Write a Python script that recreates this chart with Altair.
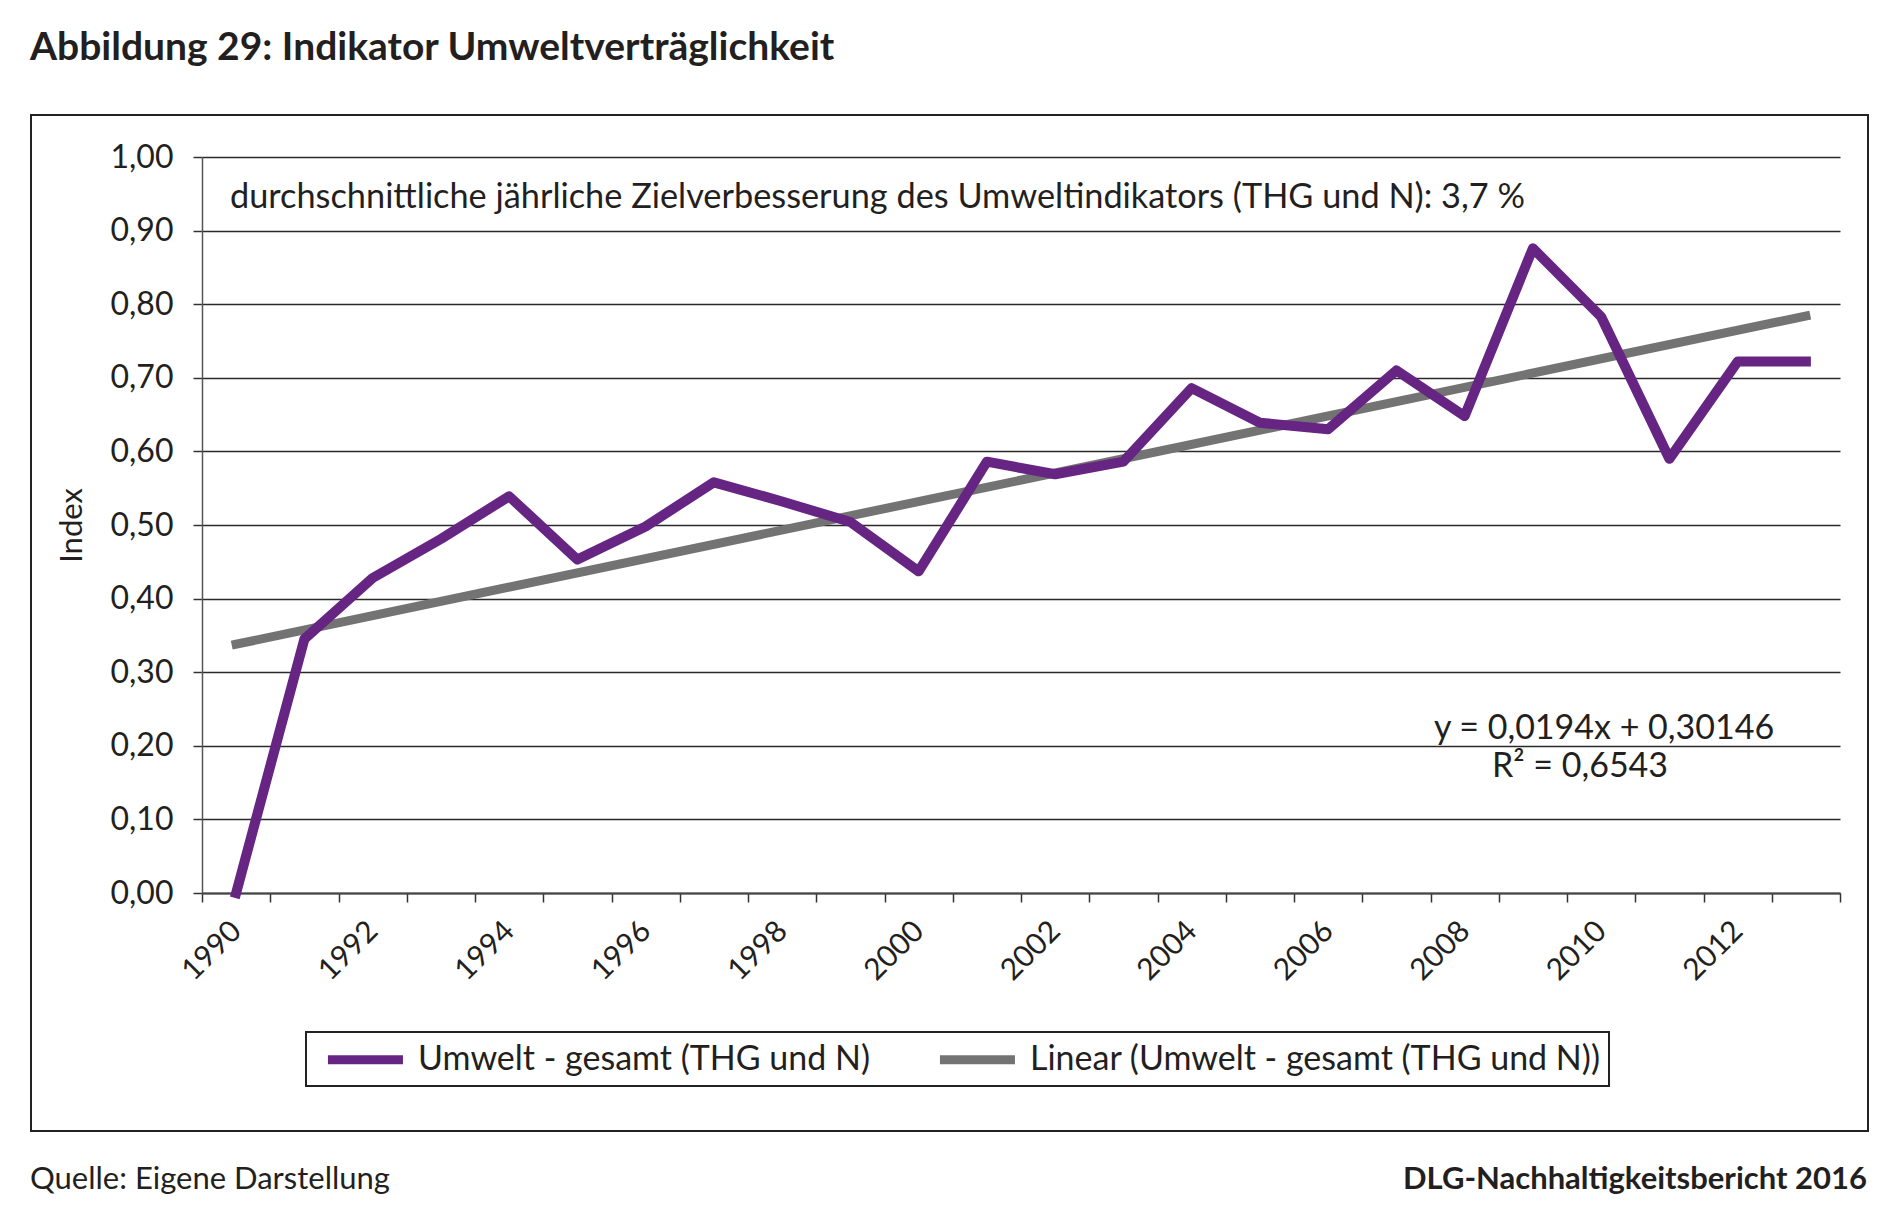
import altair as alt
import pandas as pd

# ---------------- data ----------------
YEARS = list(range(1990, 2014))
UMWELT = [0.000, 0.345, 0.428, 0.481, 0.539, 0.453, 0.498, 0.558, 0.532, 0.504,
          0.437, 0.586, 0.569, 0.586, 0.686, 0.639, 0.630, 0.710, 0.648, 0.876,
          0.783, 0.590, 0.722, 0.722]
TREND_YEARS = [1990, 2013]
TREND_VALUES = [0.338, 0.784]
SERIES = ["Umwelt - gesamt (THG und N)", "Linear (Umwelt - gesamt (THG und N))"]
Y_TICKS = [0.0, 0.1, 0.2, 0.3, 0.4, 0.5, 0.6, 0.7, 0.8, 0.9, 1.0]

TITLE = "Abbildung 29: Indikator Umweltverträglichkeit"
NOTE = "durchschnittliche jährliche Zielverbesserung des Umweltindikators (THG und N): 3,7 %"
EQ1 = "y = 0,0194x + 0,30146"
EQ2 = "R² = 0,6543"
SOURCE = "Quelle: Eigene Darstellung"
BRAND = "DLG-Nachhaltigkeitsbericht 2016"
Y_TITLE = "Index"

PURPLE = "#662483"
GRAY = "#737373"
INK = "#231f20"
FONT = "Lato"

df_line = pd.DataFrame({"year": YEARS, "value": UMWELT, "series": SERIES[0]})
df_trend = pd.DataFrame({"year": TREND_YEARS, "value": TREND_VALUES, "series": SERIES[1]})

x_enc = alt.X(
    "year:O",
    bandPosition=0.5,
    scale=alt.Scale(type="band", domain=YEARS, paddingInner=0, paddingOuter=0),
    axis=alt.Axis(
        title=None,
        tickBand="extent",
        labelExpr="datum.value % 2 == 0 ? datum.label : ''",
        labelAngle=-45,
        labelAlign="right",
        labelBaseline="middle",
        labelPadding=24,
        labelFontSize=30,
        labelFont=FONT,
        labelColor=INK,
        labelOverlap=False,
        tickSize=9,
        tickWidth=1.5,
        tickColor="#333333",
        domainColor="#444444",
        domainWidth=2,
        grid=False,
    ),
)
y_enc = alt.Y(
    "value:Q",
    scale=alt.Scale(domain=[0, 1], nice=False, zero=True),
    axis=alt.Axis(
        title=Y_TITLE,
        titleFont=FONT,
        titleFontSize=31,
        titleFontWeight="normal",
        titleColor=INK,
        titleAngle=-90,
        titleX=-130,
        titleY=368,
        titleAlign="center",
        titleBaseline="middle",
        values=Y_TICKS,
        labelExpr="replace(format(datum.value, '.2f'), '.', ',')",
        labelFontSize=32,
        labelFont=FONT,
        labelColor=INK,
        labelPadding=20,
        tickSize=9,
        tickWidth=1.5,
        tickColor="#333333",
        domainColor="#555555",
        domainWidth=1.5,
        grid=True,
        gridColor="#2a2a2a",
        gridWidth=1.5,
    ),
)
color_enc = alt.Color(
    "series:N",
    scale=alt.Scale(domain=SERIES, range=[PURPLE, GRAY]),
    legend=alt.Legend(
        title=None,
        orient="none",
        legendX=104,
        legendY=875,
        direction="horizontal",
        symbolType="M-0.37,0H4.63",
        symbolSize=900,
        symbolStrokeWidth=9,
        labelFont=FONT,
        labelFontSize=34,
        labelColor=INK,
        labelOffset=65,
        columnPadding=50,
        padding=8,
        strokeColor="#222222",
        fillColor="white",
        labelLimit=900,
    ),
)

trend = alt.Chart(df_trend).mark_line(strokeWidth=9, strokeCap="square").encode(
    x=x_enc, y=y_enc, color=color_enc
)
line = alt.Chart(df_line).mark_line(strokeWidth=10, strokeCap="square", strokeJoin="round").encode(
    x=x_enc, y=y_enc, color=color_enc
)

box = alt.Chart(pd.DataFrame({"k": [0]})).mark_rect(
    fillOpacity=0, stroke="#222222", strokeWidth=2
).encode(
    x=alt.value(-171), x2=alt.value(1666), y=alt.value(-42), y2=alt.value(974)
)

def text_layer(txt, x, y, align="left", size=32, weight="normal", font=FONT):
    return alt.Chart(pd.DataFrame({"t": [txt]})).mark_text(
        align=align, baseline="alphabetic", font=font, fontSize=size,
        fontWeight=weight, color=INK
    ).encode(text="t:N", x=alt.value(x), y=alt.value(y))

title = text_layer(TITLE, -172, -97, size=39, weight="bold")
note = text_layer(NOTE, 28, 51, size=34.3)
eq1 = text_layer(EQ1, 1402, 582, align="center", size=34)
eq2 = text_layer(EQ2, 1378, 620, align="center", size=34)
source = text_layer(SOURCE, -172, 1032, size=31)
brand = text_layer(BRAND, 1665, 1032, align="right", size=31, weight="bold")

chart = alt.layer(box, trend, line, title, note, eq1, eq2, source, brand).properties(
    width=1638,
    height=736,
    padding={"left": 194, "top": 149, "right": 50, "bottom": 312},
    autosize=alt.AutoSizeParams(type="none"),
).configure_view(stroke=None).configure_legend(strokeWidth=2)

chart.save("out.html", embed_options={"renderer": "svg", "actions": False})
